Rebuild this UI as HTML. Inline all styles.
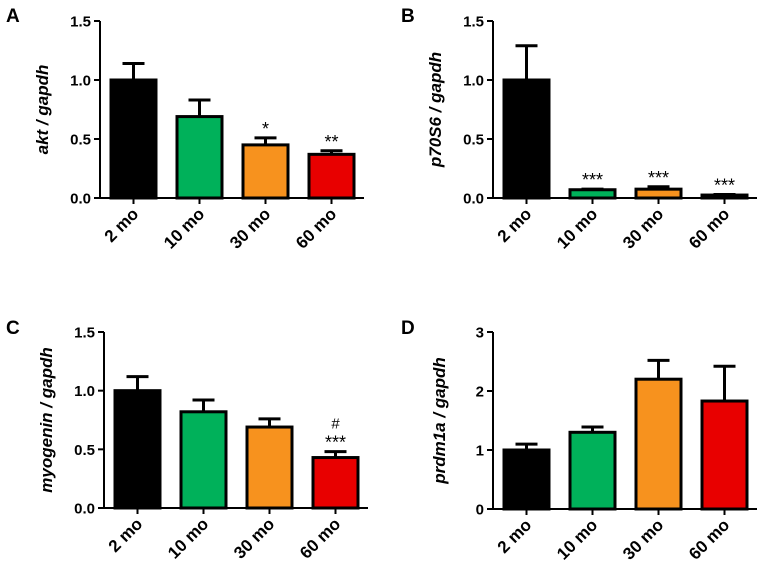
<!DOCTYPE html>
<html><head><meta charset="utf-8"><style>
body{margin:0;background:#fff;}
svg{display:block;font-family:"Liberation Sans",Arial,sans-serif;}
</style></head><body>
<svg id="fig" width="763" height="567" viewBox="0 0 763 567"></svg>
<script>
const categories = ["2 mo","10 mo","30 mo","60 mo"];
const colors = ["#000000","#00b15a","#f7921e","#e80000"];
const aValues = [1.0,0.69,0.45,0.37];
const aErrors = [0.14,0.14,0.06,0.03];
const aMarks = ["","","*","**"];
const bValues = [1.0,0.07,0.075,0.025];
const bErrors = [0.29,0.005,0.02,0.005];
const bMarks = ["","***","***","***"];
const cValues = [1.0,0.82,0.69,0.43];
const cErrors = [0.12,0.10,0.07,0.05];
const cMarks = ["","","","***"];
const cMarks2 = ["","","","#"];
const dValues = [1.0,1.3,2.2,1.83];
const dErrors = [0.1,0.09,0.32,0.59];
const abcTicks = [0,0.5,1.0,1.5];
const abcTickLabels = ["0.0","0.5","1.0","1.5"];
const dTicks = [0,1,2,3];
const dTickLabels = ["0","1","2","3"];

const NS="http://www.w3.org/2000/svg";
const svg=document.getElementById('fig');
function mk(tag,attrs,parent,text){
  const e=document.createElementNS(NS,tag);
  for(const k in attrs)e.setAttribute(k,attrs[k]);
  if(text!==undefined)e.textContent=text;
  (parent||svg).appendChild(e);return e;
}
function panel(o){
  const g=mk('g',{});
  
  
  const max=o.ticks[o.ticks.length-1];
  const y=v=>o.yBot-(v/max)*(o.yBot-o.yTop);
  const period=66, bw=45;
  const xc=i=>o.ax+11+bw/2+i*period;
  const lab=mk('text',{x:o.lx,y:o.ly,'font-size':19,'font-weight':'bold'},g,o.id);
  
  
  const tt=mk('text',{x:0,y:0,'font-size':17,'font-weight':'bold','font-style':'italic','text-anchor':'middle',transform:`translate(${o.tx},${(o.yTop+o.yBot)/2}) rotate(-90)`},g,o.title);
  
  
  o.values.forEach((v,i)=>{
    const top=y(v+o.errors[i]);
    const el=mk('line',{x1:xc(i),x2:xc(i),y1:y(v),y2:top,stroke:'#000','stroke-width':3},g);
    
    
    mk('line',{x1:xc(i)-11,x2:xc(i)+11,y1:top,y2:top,stroke:'#000','stroke-width':3},g);
    const r=mk('rect',{x:xc(i)-bw/2,y:y(v),width:bw,height:Math.max(o.yBot-y(v),0.5),fill:colors[i],stroke:'#000','stroke-width':3},g);
    
    
    if(o.marks&&o.marks[i]){
      const m=mk('text',{x:xc(i),y:top-3,'font-size':18,'text-anchor':'middle'},g,o.marks[i]);
      
      
    }
    if(o.marks2&&o.marks2[i]){
      const m=mk('text',{x:xc(i),y:top-23,'font-size':15,'text-anchor':'middle'},g,o.marks2[i]);
      
      
    }
    mk('line',{x1:xc(i),x2:xc(i),y1:o.yBot,y2:o.yBot+6,stroke:'#000','stroke-width':2},g);
    const xl=mk('text',{x:0,y:0,'font-size':17,'font-weight':'bold','text-anchor':'end',transform:`translate(${xc(i)+6},${o.yBot+17}) rotate(-45)`},g,categories[i]);
    
    
  });
  mk('line',{x1:o.ax,x2:o.ax,y1:o.yTop,y2:o.yBot,stroke:'#000','stroke-width':2},g);
  mk('line',{x1:o.ax,x2:o.ax+264,y1:o.yBot,y2:o.yBot,stroke:'#000','stroke-width':2},g);
  o.ticks.forEach((t,i)=>{
    mk('line',{x1:o.ax-6,x2:o.ax,y1:y(t),y2:y(t),stroke:'#000','stroke-width':2},g);
    const tl=mk('text',{x:o.ax-9,y:y(t)+5.5,'font-size':15,'font-weight':'bold','text-anchor':'end'},g,o.tickLabels[i]);
    
    
  });
}
panel({id:'A',ax:100,yTop:21,yBot:198,lx:6,ly:22,tx:48,title:'akt / gapdh',values:aValues,errors:aErrors,marks:aMarks,ticks:abcTicks,tickLabels:abcTickLabels});
panel({id:'B',ax:493,yTop:21,yBot:198,lx:401,ly:22,tx:441,title:'p70S6 / gapdh',values:bValues,errors:bErrors,marks:bMarks,ticks:abcTicks,tickLabels:abcTickLabels});
panel({id:'C',ax:104,yTop:332,yBot:508,lx:6,ly:334,tx:52,title:'myogenin / gapdh',values:cValues,errors:cErrors,marks:cMarks,marks2:cMarks2,ticks:abcTicks,tickLabels:abcTickLabels});
panel({id:'D',ax:493,yTop:332,yBot:509,lx:401,ly:334,tx:445,title:'prdm1a / gapdh',values:dValues,errors:dErrors,ticks:dTicks,tickLabels:dTickLabels});
</script>
</body></html>
